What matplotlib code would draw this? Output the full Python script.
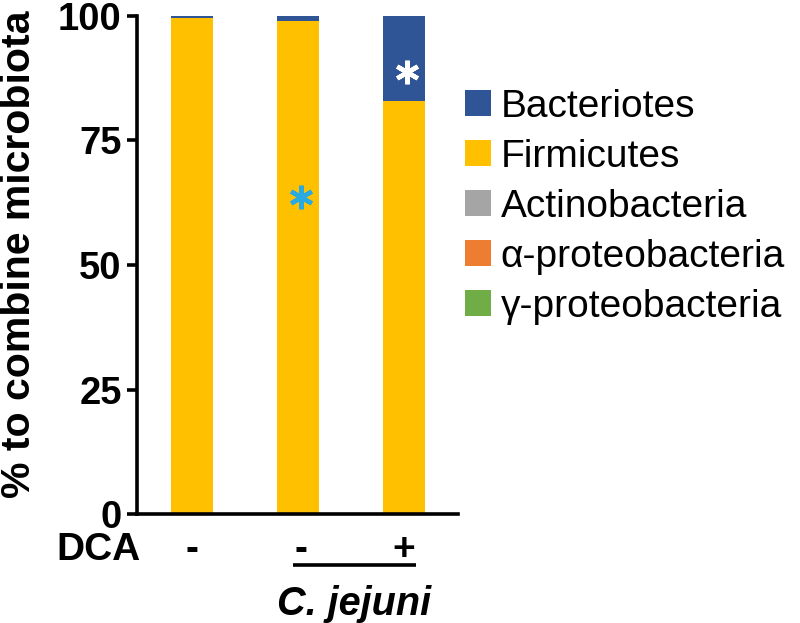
import matplotlib
matplotlib.use("Agg")
import matplotlib.pyplot as plt
from matplotlib.patches import Patch
import numpy as np

groups = ["-", "-", "+"]
series_names = ["Bacteriotes", "Firmicutes", "Actinobacteria", "α-proteobacteria", "γ-proteobacteria"]
bacteriotes = [0.5, 1.0, 17.0]
firmicutes = [99.5, 99.0, 83.0]
actinobacteria = [0.0, 0.0, 0.0]
alpha_proteo = [0.0, 0.0, 0.0]
gamma_proteo = [0.0, 0.0, 0.0]
colors = ["#2F5597", "#FFC000", "#A5A5A5", "#ED7D31", "#70AD47"]
yticks = [0, 25, 50, 75, 100]
sig_y = [63.7, 88.8]          # asterisk heights for bars 2 and 3
sig_colors = ["#29ABE2", "white"]

plt.rcParams['font.family'] = ['Liberation Sans', 'DejaVu Sans']

W, H = 800, 623
fig = plt.figure(figsize=(W / 100, H / 100), dpi=100)
ax = fig.add_axes([137 / W, 1 - 514 / H, (458 - 137) / W, (514 - 16) / H])

x = np.arange(len(groups))
width = 0.4
stack_order = [(gamma_proteo, colors[4]), (alpha_proteo, colors[3]),
               (actinobacteria, colors[2]), (firmicutes, colors[1]),
               (bacteriotes, colors[0])]
bottom = np.zeros(len(groups))
for vals, c in stack_order:
    v = np.array(vals, dtype=float)
    ax.bar(x, v, width, bottom=bottom, color=c, edgecolor='none')
    bottom += v

ax.set_xlim(-0.519, 2.509)
ax.set_ylim(0, 100)
ax.set_yticks(yticks)
ax.set_yticklabels([str(t) for t in yticks], fontsize=27.5, fontweight='bold')
ax.set_xticks([])
for s in ['top', 'right']:
    ax.spines[s].set_visible(False)
ax.spines['left'].set_linewidth(2.6)
ax.spines['bottom'].set_linewidth(2.6)
ax.tick_params(axis='y', length=7, width=2.6, pad=4)

# y-axis label placed in figure pixels
fig.text(19 / W, 1 - 254 / H, "% to combine microbiota", rotation=90, fontsize=29.5,
         fontweight='bold', ha='center', va='center')

# asterisks (six-armed)
for xi, yv, c in zip(x[1:], sig_y, sig_colors):
    ax.plot([xi + 0.03], [yv], marker=(6, 2, 0), markersize=17, mew=3.2,
            color=c, linestyle='none', clip_on=False)

# group labels below axis
ax.text(-0.88, -7.3, "DCA", fontsize=28, fontweight='bold', ha='center', va='center', clip_on=False)
for xi, g in zip(x, groups):
    ax.text(xi + (0.03 if xi == 1 else 0.0), -7.3, g, fontsize=28, fontweight='bold',
            ha='center', va='center', clip_on=False)
ax.plot([0.95, 2.11], [-10.3, -10.3], color='black', lw=2.6, clip_on=False, solid_capstyle='butt')
ax.text(1.53, -18, "C. jejuni", fontsize=28.5, fontweight='bold', style='italic',
        ha='center', va='center', clip_on=False)

handles = [Patch(facecolor=c, edgecolor='none') for c in colors]
leg = fig.legend(handles, series_names, loc='upper left', bbox_to_anchor=(449 / W, 1 - 73 / H),
                 frameon=False, fontsize=28, handlelength=0.68, handleheight=0.68,
                 handletextpad=0.25, labelspacing=0.36, borderaxespad=0)

fig.savefig("out.png", dpi=100)
